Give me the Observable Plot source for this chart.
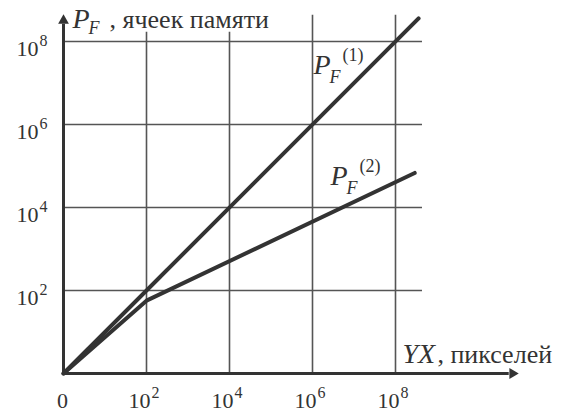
<!DOCTYPE html>
<html lang="ru"><head><meta charset="utf-8">
<script src="https://cdn.jsdelivr.net/npm/d3@7"></script>
<script src="https://cdn.jsdelivr.net/npm/@observablehq/plot@0.6"></script>
<style>body{margin:0;background:#fff}</style>
</head><body>
<div id="chart"></div>
<script>
// ---- data ----
const gridValues = [1e2, 1e4, 1e6, 1e8];
const tickBase = "10";
const tickExponents = ["2", "4", "6", "8"];
const originLabel = "0";
const series1X = [1, 3.6e8];
const series1Y = [1, 3.6e8];
const series2X = [1, 1e2, 2.9e8];
const series2Y = [1, 57, 6.8e4];
const seriesSymbol = "P";
const seriesSub = "F";
const seriesSup = ["(1)", "(2)"];
const seriesLabelX = [1.06e6, 2.72e6];
const seriesLabelY = [1.69e7, 3.39e4];
const yTitleRest = ", ячеек памяти";
const xTitleVar = "YX";
const xTitleRest = ", пикселей";

// ---- build ----
const INK = "#333";
const GRID = "#555";
const F = "Liberation Serif";
const toRows = (xs, ys) => xs.map((x, i) => ({x, y: ys[i]}));
const txt = (data, o) => Plot.text(data, {lineAnchor: "bottom", fill: INK, fontFamily: F, ...o});
const one = () => 1;

const plot = Plot.plot({
  width: 562,
  height: 412,
  margin: 0,
  x: {type: "log", domain: [1, 1e10], range: [63, 478], axis: null},
  y: {type: "log", domain: [1, 1e10], range: [373, -42], axis: null},
  marks: [
    // grid
    Plot.ruleX(gridValues.slice(0, 2), {y1: 1, y2: 1.66e8, stroke: GRID, strokeWidth: 1.6}),
    Plot.ruleX(gridValues.slice(2), {y1: 1, y2: 4.27e8, stroke: GRID, strokeWidth: 1.6}),
    Plot.ruleY(gridValues, {x1: 1, x2: 4.47e8, stroke: GRID, strokeWidth: 1.6}),
    // axes with arrow heads
    Plot.ruleX([1], {y1: 1, y2: 2.6e8, stroke: INK, strokeWidth: 3}),
    Plot.ruleY([1], {x1: 1, x2: 5.5e10, stroke: INK, strokeWidth: 3}),
    Plot.dot([0], {x: [1], y: [3.2e8], symbol: "triangle", r: 4, fill: INK, stroke: "none"}),
    Plot.dot([0], {x: [6.6e10], y: [1], symbol: "triangle", r: 4, rotate: 90, fill: INK, stroke: "none"}),
    // series
    Plot.line(toRows(series1X, series1Y), {x: "x", y: "y", stroke: INK, strokeWidth: 4, strokeLinecap: "round", strokeLinejoin: "round"}),
    Plot.line(toRows(series2X, series2Y), {x: "x", y: "y", stroke: INK, strokeWidth: 4, strokeLinecap: "round", strokeLinejoin: "round"}),
    // x tick labels
    txt([originLabel], {x: one, y: one, text: d => d, dx: -1, dy: 34, textAnchor: "middle", fontSize: 22}),
    txt(gridValues, {x: d => d, y: one, text: () => tickBase, dx: 4, dy: 34, textAnchor: "end", fontSize: 22}),
    txt(gridValues, {x: d => d, y: one, text: (d, i) => tickExponents[i], dx: 5, dy: 24, textAnchor: "start", fontSize: 16}),
    // y tick labels
    txt(gridValues, {x: one, y: d => d, text: () => tickBase, dx: -25, dy: 14, textAnchor: "end", fontSize: 22}),
    txt(gridValues, {x: one, y: d => d, text: (d, i) => tickExponents[i], dx: -24, dy: 4, textAnchor: "start", fontSize: 16}),
    // series labels P_F^(k)
    txt(seriesSup, {x: seriesLabelX, y: seriesLabelY, text: () => seriesSymbol, textAnchor: "start", fontSize: 28, fontStyle: "italic"}),
    txt(seriesSup, {x: seriesLabelX, y: seriesLabelY, text: () => seriesSub, dx: 16, dy: 9, textAnchor: "start", fontSize: 18, fontStyle: "italic"}),
    txt(seriesSup, {x: seriesLabelX, y: seriesLabelY, text: d => d, dx: 29, dy: -13, textAnchor: "start", fontSize: 18}),
    // y-axis title  P_F , ячеек памяти
    txt([yTitleRest], {x: [1.65], y: [2.17e8], text: () => seriesSymbol, textAnchor: "start", fontSize: 28, fontStyle: "italic"}),
    txt([yTitleRest], {x: [1.65], y: [2.17e8], text: () => seriesSub, dx: 16, dy: 6, textAnchor: "start", fontSize: 18, fontStyle: "italic"}),
    txt([yTitleRest], {x: [1.65], y: [2.17e8], text: d => d, dx: 37, textAnchor: "start", fontSize: 26}),
    // x-axis title  YX, пикселей
    txt([xTitleVar], {x: [1.47e8], y: [1.84], text: d => d, textAnchor: "start", fontSize: 28, fontStyle: "italic"}),
    txt([xTitleRest], {x: [1.47e8], y: [1.84], text: d => d, dx: 35, textAnchor: "start", fontSize: 26})
  ]
});

// force the serif face inline (wins over any other stylesheet rule)
plot.style.setProperty("font-family", "'Liberation Serif', serif", "important");
d3.select(plot).selectAll("g[aria-label=text], text")
  .each(function () { this.style.setProperty("font-family", "'Liberation Serif', serif", "important"); });

document.getElementById("chart").appendChild(plot);
</script>
</body></html>
